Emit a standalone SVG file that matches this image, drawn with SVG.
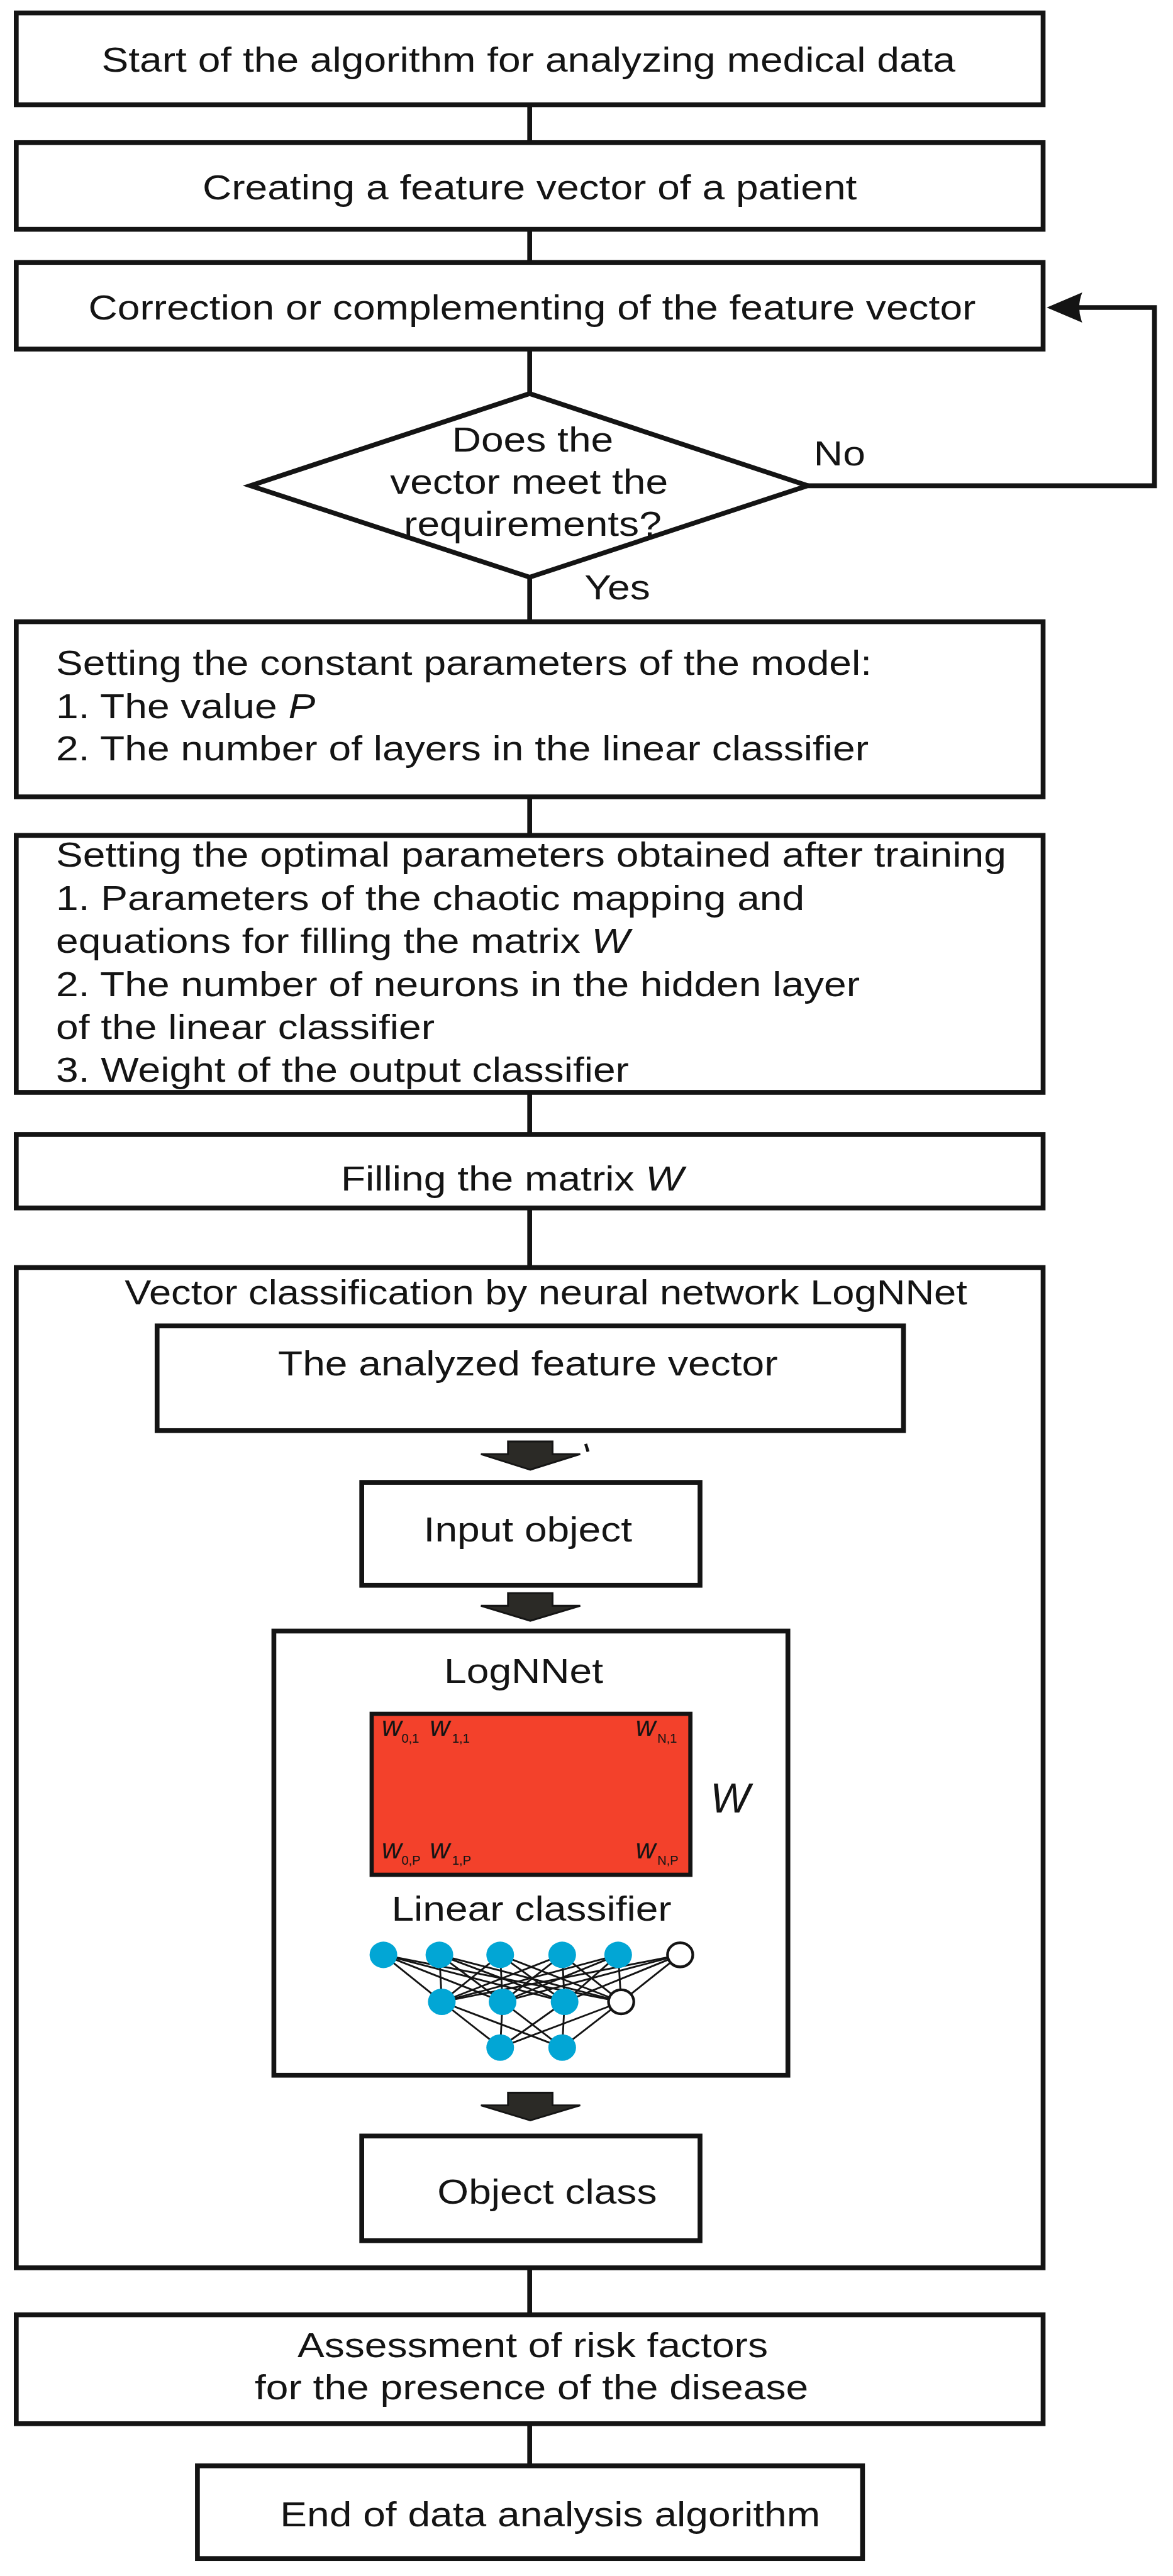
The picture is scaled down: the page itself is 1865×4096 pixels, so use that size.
<svg xmlns="http://www.w3.org/2000/svg" width="1865" height="4096" viewBox="0 0 1865 4096">
<style>
.box{fill:#fff;stroke:#141414;stroke-width:8}
.ln{fill:none;stroke:#141414;stroke-width:8}
.t{font-family:"Liberation Sans",Arial,sans-serif;font-size:58px;fill:#141414}
.mi{font-style:italic}
.blk{fill:#2b2a26;stroke:#141414;stroke-width:3;stroke-linejoin:miter}
.nl{stroke:#141414;stroke-width:3}
.neu{fill:#02a6d5}
.bias{fill:#fff;stroke:#141414;stroke-width:4.5}
.ws{font-family:"Liberation Sans",Arial,sans-serif;font-size:46px;font-style:italic;fill:#141414}
.sub{font-family:"Liberation Sans",Arial,sans-serif;font-size:21px;fill:#141414}
</style>
<rect width="1865" height="4096" fill="#fff"/>
<g transform="scale(0.957)">
<g id="connectors">
<line class="ln" x1="880" y1="174" x2="880" y2="237"/>
<line class="ln" x1="880" y1="381" x2="880" y2="436"/>
<line class="ln" x1="880" y1="580" x2="880" y2="654"/>
<line class="ln" x1="880" y1="959" x2="880" y2="1033"/>
<line class="ln" x1="880" y1="1324" x2="880" y2="1388"/>
<line class="ln" x1="880" y1="1815" x2="880" y2="1885"/>
<line class="ln" x1="880" y1="2007" x2="880" y2="2106"/>
<line class="ln" x1="880" y1="3768" x2="880" y2="3846"/>
<line class="ln" x1="880" y1="4027" x2="880" y2="4097"/>
<path class="ln" d="M1342,807 H1918 V511 H1792"/>
<path d="M1739,511 L1798,486 Q1788,511 1798,536 Z" fill="#141414"/>
<text class="t" transform="translate(1352 773) scale(1.155 1)">No</text>
<text class="t" transform="translate(971 996) scale(1.155 1)">Yes</text>
</g>
<g id="n1">
<rect class="box" x="27" y="21.5" width="1706" height="152.5"/>
<text class="t" text-anchor="middle" transform="translate(878 119) scale(1.155 1)">Start of the algorithm for analyzing medical data</text>
</g>
<g id="n2">
<rect class="box" x="27" y="237" width="1706" height="144"/>
<text class="t" text-anchor="middle" transform="translate(880 331) scale(1.155 1)">Creating a feature vector of a patient</text>
</g>
<g id="n3">
<rect class="box" x="27" y="436" width="1706" height="144"/>
<text class="t" text-anchor="middle" transform="translate(884 531) scale(1.155 1)">Correction or complementing of the feature vector</text>
</g>
<g id="n4">
<polygon class="box" points="880,654 1342,807 880,959 416,807"/>
<text class="t" text-anchor="middle" transform="translate(885 750) scale(1.155 1)">Does the</text>
<text class="t" text-anchor="middle" transform="translate(879 820) scale(1.155 1)">vector meet the</text>
<text class="t" text-anchor="middle" transform="translate(885 890) scale(1.155 1)">requirements?</text>
</g>
<g id="n5">
<rect class="box" x="27" y="1033" width="1706" height="291"/>
<text class="t" transform="translate(93 1121) scale(1.155 1)">Setting the constant parameters of the model:</text>
<text class="t" transform="translate(93 1193) scale(1.155 1)">1. The value <tspan class="mi">P</tspan></text>
<text class="t" transform="translate(93 1263) scale(1.155 1)">2. The number of layers in the linear classifier</text>
</g>
<g id="n6">
<rect class="box" x="27" y="1388" width="1706" height="427"/>
<text class="t" transform="translate(93 1440) scale(1.155 1)">Setting the optimal parameters obtained after training</text>
<text class="t" transform="translate(93 1512) scale(1.155 1)">1. Parameters of the chaotic mapping and</text>
<text class="t" transform="translate(93 1583) scale(1.155 1)">equations for filling the matrix <tspan class="mi">W</tspan></text>
<text class="t" transform="translate(93 1655) scale(1.155 1)">2. The number of neurons in the hidden layer</text>
<text class="t" transform="translate(93 1726) scale(1.155 1)">of the linear classifier</text>
<text class="t" transform="translate(93 1797) scale(1.155 1)">3. Weight of the output classifier</text>
</g>
<g id="n7">
<rect class="box" x="27" y="1885" width="1706" height="122"/>
<text class="t" text-anchor="middle" transform="translate(851 1978) scale(1.155 1)">Filling the matrix <tspan class="mi">W</tspan></text>
</g>
<g id="n8">
<rect class="box" x="27" y="2106" width="1706" height="1662"/>
<text class="t" text-anchor="middle" transform="translate(907 2167) scale(1.14 1)">Vector classification by neural network LogNNet</text>
</g>
<g id="n9">
<rect class="box" x="261" y="2203" width="1240" height="174"/>
<text class="t" text-anchor="middle" transform="translate(877 2285) scale(1.155 1)">The analyzed feature vector</text>
</g>
<g id="arrows-inner">
<polygon class="blk" points="844,2395 918,2395 918,2416 964,2416 881,2442 799,2416 844,2416"/>
<line x1="973" y1="2399" x2="977" y2="2412" stroke="#141414" stroke-width="5"/>
<polygon class="blk" points="844,2647 918,2647 918,2668 964,2668 881,2693 799,2668 844,2668"/>
<polygon class="blk" points="844,3477 918,3477 918,3498 964,3498 881,3523 799,3498 844,3498"/>
</g>
<g id="n10">
<rect class="box" x="601" y="2463" width="562" height="171"/>
<text class="t" text-anchor="middle" transform="translate(877 2561) scale(1.155 1)">Input object</text>
</g>
<g id="n11">
<rect class="box" x="455" y="2710" width="854" height="738"/>
<text class="t" text-anchor="middle" transform="translate(870 2796) scale(1.155 1)">LogNNet</text>
<rect x="617.5" y="2847.5" width="529.5" height="267.5" fill="#f3412b" stroke="#141414" stroke-width="7"/>
<text class="ws" x="634" y="2884">w</text><text class="sub" x="667" y="2895">0,1</text>
<text class="ws" x="714" y="2884">w</text><text class="sub" x="751" y="2895">1,1</text>
<text class="ws" x="1056" y="2884">w</text><text class="sub" x="1092" y="2895">N,1</text>
<text class="ws" x="634" y="3088">w</text><text class="sub" x="667" y="3098">0,P</text>
<text class="ws" x="714" y="3088">w</text><text class="sub" x="751" y="3098">1,P</text>
<text class="ws" x="1056" y="3088">w</text><text class="sub" x="1092" y="3098">N,P</text>
<text x="1180" y="3012" font-family="Liberation Sans, Arial, sans-serif" font-size="70" font-style="italic" fill="#141414">W</text>
<text class="t" text-anchor="middle" transform="translate(883 3191) scale(1.155 1)">Linear classifier</text>
<g id="net">
<g class="nl">
<line x1="637" y1="3248" x2="734" y2="3326"/><line x1="637" y1="3248" x2="835" y2="3326"/><line x1="637" y1="3248" x2="938" y2="3326"/><line x1="637" y1="3248" x2="1032" y2="3326"/>
<line x1="730" y1="3248" x2="734" y2="3326"/><line x1="730" y1="3248" x2="835" y2="3326"/><line x1="730" y1="3248" x2="938" y2="3326"/><line x1="730" y1="3248" x2="1032" y2="3326"/>
<line x1="831" y1="3248" x2="734" y2="3326"/><line x1="831" y1="3248" x2="835" y2="3326"/><line x1="831" y1="3248" x2="938" y2="3326"/><line x1="831" y1="3248" x2="1032" y2="3326"/>
<line x1="934" y1="3248" x2="734" y2="3326"/><line x1="934" y1="3248" x2="835" y2="3326"/><line x1="934" y1="3248" x2="938" y2="3326"/><line x1="934" y1="3248" x2="1032" y2="3326"/>
<line x1="1027" y1="3248" x2="734" y2="3326"/><line x1="1027" y1="3248" x2="835" y2="3326"/><line x1="1027" y1="3248" x2="938" y2="3326"/><line x1="1027" y1="3248" x2="1032" y2="3326"/>
<line x1="1130" y1="3248" x2="734" y2="3326"/><line x1="1130" y1="3248" x2="835" y2="3326"/><line x1="1130" y1="3248" x2="938" y2="3326"/><line x1="1130" y1="3248" x2="1032" y2="3326"/>
<line x1="734" y1="3326" x2="831" y2="3402"/><line x1="734" y1="3326" x2="934" y2="3402"/>
<line x1="835" y1="3326" x2="831" y2="3402"/><line x1="835" y1="3326" x2="934" y2="3402"/>
<line x1="938" y1="3326" x2="831" y2="3402"/><line x1="938" y1="3326" x2="934" y2="3402"/>
<line x1="1032" y1="3326" x2="831" y2="3402"/><line x1="1032" y1="3326" x2="934" y2="3402"/>
</g>
<ellipse class="neu" cx="637" cy="3248" rx="23" ry="22"/>
<ellipse class="neu" cx="730" cy="3248" rx="23" ry="22"/>
<ellipse class="neu" cx="831" cy="3248" rx="23" ry="22"/>
<ellipse class="neu" cx="934" cy="3248" rx="23" ry="22"/>
<ellipse class="neu" cx="1027" cy="3248" rx="23" ry="22"/>
<ellipse class="bias" cx="1130" cy="3248" rx="21" ry="20"/>
<ellipse class="neu" cx="734" cy="3326" rx="23" ry="22"/>
<ellipse class="neu" cx="835" cy="3326" rx="23" ry="22"/>
<ellipse class="neu" cx="938" cy="3326" rx="23" ry="22"/>
<ellipse class="bias" cx="1032" cy="3326" rx="21" ry="20"/>
<ellipse class="neu" cx="831" cy="3402" rx="23" ry="22"/>
<ellipse class="neu" cx="934" cy="3402" rx="23" ry="22"/>
</g>
</g>
<g id="n12">
<rect class="box" x="601" y="3549" width="562" height="174"/>
<text class="t" text-anchor="middle" transform="translate(909 3661) scale(1.155 1)">Object class</text>
</g>
<g id="n13">
<rect class="box" x="27" y="3846" width="1706" height="181"/>
<text class="t" text-anchor="middle" transform="translate(885 3916) scale(1.155 1)">Assessment of risk factors</text>
<text class="t" text-anchor="middle" transform="translate(883 3986) scale(1.155 1)">for the presence of the disease</text>
</g>
<g id="n14">
<rect class="box" x="328" y="4097" width="1105" height="154"/>
<text class="t" text-anchor="middle" transform="translate(914 4198) scale(1.155 1)">End of data analysis algorithm</text>
</g>
</g>
</svg>
